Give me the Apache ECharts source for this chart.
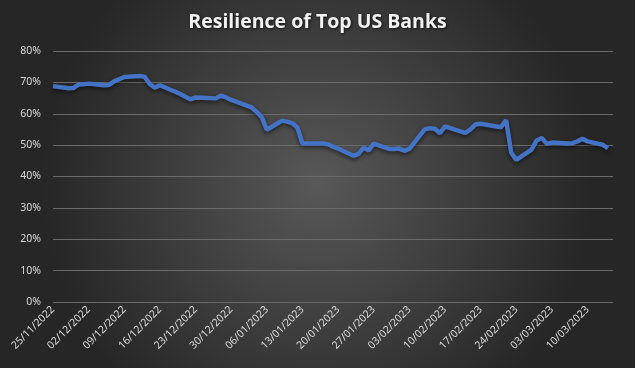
<!DOCTYPE html>
<html>
<head>
<meta charset="utf-8">
<script src="https://cdn.jsdelivr.net/npm/echarts@6/dist/echarts.min.js"></script>
<style>
html,body{margin:0;padding:0;background:#333;}
#chart{width:635px;height:368px;}
</style>
</head>
<body>
<div id="chart"></div>
<script>
// Trading dates and resilience values (%)
const tradeDates = [
 '25/11/2022','28/11/2022','29/11/2022','30/11/2022','01/12/2022','02/12/2022',
 '05/12/2022','06/12/2022','07/12/2022','08/12/2022','09/12/2022',
 '12/12/2022','13/12/2022','14/12/2022','15/12/2022','16/12/2022',
 '19/12/2022','20/12/2022','21/12/2022','22/12/2022','23/12/2022',
 '27/12/2022','28/12/2022','29/12/2022','30/12/2022',
 '03/01/2023','04/01/2023','05/01/2023','06/01/2023',
 '09/01/2023','10/01/2023','11/01/2023','12/01/2023','13/01/2023',
 '17/01/2023','18/01/2023','19/01/2023','20/01/2023',
 '23/01/2023','24/01/2023','25/01/2023','26/01/2023','27/01/2023',
 '30/01/2023','31/01/2023','01/02/2023','02/02/2023','03/02/2023',
 '06/02/2023','07/02/2023','08/02/2023','09/02/2023','10/02/2023',
 '13/02/2023','14/02/2023','15/02/2023','16/02/2023','17/02/2023',
 '21/02/2023','22/02/2023','23/02/2023','24/02/2023',
 '27/02/2023','28/02/2023','01/03/2023','02/03/2023','03/03/2023',
 '06/03/2023','07/03/2023','08/03/2023','09/03/2023','10/03/2023',
 '13/03/2023','14/03/2023'
];
const resilience = [
 68.8,68.1,68.2,69.3,69.4,69.6,
 69.1,69.2,70.3,71.0,71.7,
 72.0,71.8,69.5,68.3,69.1,
 67.0,66.3,65.4,64.6,65.2,
 64.9,65.8,65.2,64.4,
 62.0,60.6,58.9,54.9,
 57.8,57.5,57.0,55.6,50.5,
 50.5,50.3,49.5,48.9,
 46.6,47.2,49.2,48.3,50.5,
 48.8,48.8,48.9,48.2,48.8,
 55.0,55.4,55.2,53.8,56.0,
 54.4,53.9,55.0,56.6,56.8,
 55.7,58.0,47.6,45.3,
 48.6,51.5,52.3,50.4,50.8,
 50.5,50.6,51.2,52.0,51.2,
 50.1,49.0
];
const tickLabels = ['25/11/2022','02/12/2022','09/12/2022','16/12/2022','23/12/2022','30/12/2022',
 '06/01/2023','13/01/2023','20/01/2023','27/01/2023','03/02/2023','10/02/2023','17/02/2023',
 '24/02/2023','03/03/2023','10/03/2023'];
const axisStart = '25/11/2022';
const axisEnd = '15/03/2023';
const yTicks = [0,10,20,30,40,50,60,70,80];

function parseD(s){const p=s.split('/');return new Date(Date.UTC(+p[2],+p[1]-1,+p[0]));}
function fmt(d){const dd=String(d.getUTCDate()).padStart(2,'0');const mm=String(d.getUTCMonth()+1).padStart(2,'0');return dd+'/'+mm+'/'+d.getUTCFullYear();}
const categories=[];
for(let d=parseD(axisStart); d<=parseD(axisEnd); d=new Date(d.getTime()+86400000)) categories.push(fmt(d));
const lookup={}; tradeDates.forEach((d,i)=>lookup[d]=resilience[i]);
const seriesData=categories.map(c=> (c in lookup)? lookup[c] : null);

const chart=echarts.init(document.getElementById('chart'),null,{renderer:'canvas'});
chart.setOption({
  backgroundColor:{type:'radial',x:0.5,y:0.5,r:0.75,colorStops:[{offset:0,color:'#585858'},{offset:1,color:'#262626'}]},
  animation:false,
  title:{text:'Resilience of Top US Banks',left:'center',top:7,
    textStyle:{color:'#f2f2f2',fontFamily:'Open Sans',fontWeight:'bold',fontSize:19.5,
      textShadowColor:'rgba(0,0,0,0.7)',textShadowBlur:3,textShadowOffsetX:1,textShadowOffsetY:1}},
  grid:{left:53,right:22,top:51,bottom:66},
  xAxis:{type:'category',data:categories,boundaryGap:false,
    axisLine:{show:false},axisTick:{show:false},
    axisLabel:{rotate:45,color:'#d9d9d9',fontFamily:'Noto Sans',fontSize:10.5,margin:6,
      interval:(idx,val)=>tickLabels.includes(val)},
    splitLine:{show:false}},
  yAxis:{type:'value',min:yTicks[0],max:yTicks[yTicks.length-1],interval:10,
    axisLine:{show:false},axisTick:{show:false},
    axisLabel:{formatter:'{value}%',color:'#d9d9d9',fontFamily:'Noto Sans',fontSize:10.5,margin:12},
    splitLine:{lineStyle:{color:'#6b6b6b',width:1}}},
  series:[{type:'line',data:seriesData,connectNulls:true,showSymbol:false,symbol:'none',
    lineStyle:{color:'#4472C4',width:4.5,shadowColor:'rgba(0,0,0,0.55)',shadowBlur:4,shadowOffsetY:2},
    itemStyle:{color:'#4472C4'}}]
});
</script>
</body>
</html>
